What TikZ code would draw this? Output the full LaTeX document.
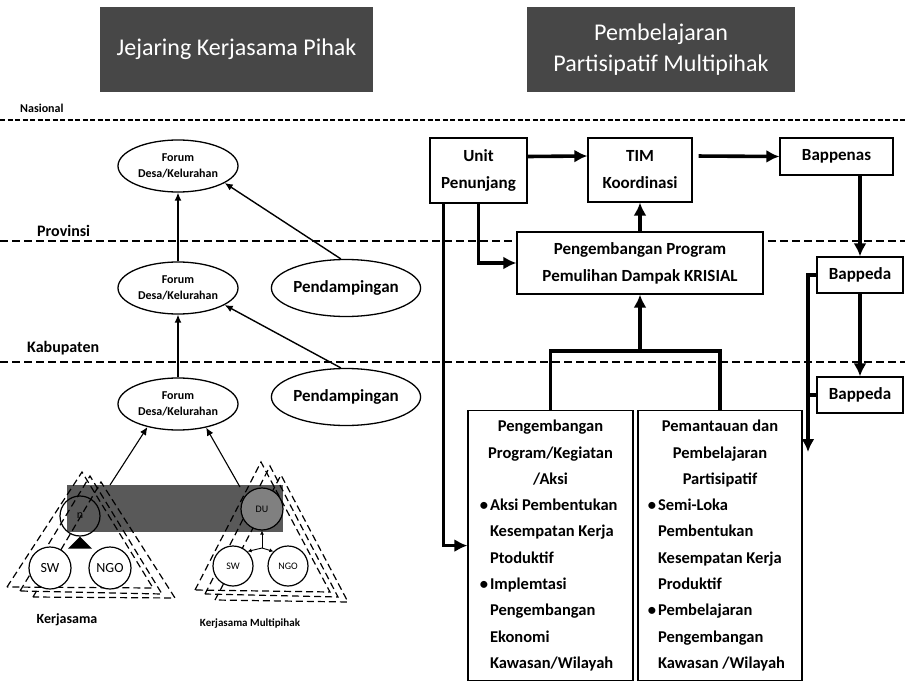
\documentclass[tikz,border=0pt]{standalone}
\usepackage{fontspec}
\setmainfont{Carlito}
\usepackage{tikz}
\usetikzlibrary{positioning,shapes,arrows.meta,calc}

\newcommand{\bulitem}{\makebox[12pt][r]{\textbullet\hspace{2pt}}}
\newcommand{\bulcont}{\hspace*{12pt}}
\newcommand{\headline}[1]{\makebox[\hsize]{#1}}

\begin{document}
\begin{tikzpicture}[
    x=1pt, y=-1pt,
    box/.style={rectangle, draw, fill=white, line width=1.2pt, inner sep=0pt, align=center, font=\bfseries\fontsize{17}{27}\selectfont},
    listbox/.style={rectangle, draw, fill=white, line width=1.2pt, anchor=north, minimum height=270pt, inner ysep=0pt, align=flush left, font=\bfseries\fontsize{16.5}{26.3}\selectfont},
    headbox/.style={rectangle, fill=black!72, text=white, inner sep=0pt, align=center, font=\fontsize{24}{31}\selectfont},
    forum/.style={ellipse, draw, fill=white, line width=1.3pt, minimum width=120pt, minimum height=52pt, inner sep=0pt, align=center, font=\bfseries\fontsize{12}{16}\selectfont},
    pend/.style={ellipse, draw, fill=white, line width=1.3pt, minimum width=122pt, minimum height=57pt, inner sep=0pt, font=\bfseries\fontsize{17}{20}\selectfont},
    tier/.style={anchor=base west, inner sep=0pt, font=\bfseries\fontsize{16}{18}\selectfont},
    tierline/.style={dash pattern=on 8pt off 4pt, line width=1.3pt},
    party/.style={circle, draw, line width=1.2pt, inner sep=0pt},
    coop/.style={dash pattern=on 7pt off 4pt, line width=1.2pt},
    thickarrow/.style={line width=3.6pt, -{Latex[length=13pt,width=13pt]}},
    thinarrow/.style={line width=1.4pt, ->},
    >={Latex[length=8pt,width=7pt]}
]
\useasboundingbox (0,0) rectangle (905,682);

% headings
\node[headbox, minimum width=273pt, minimum height=85pt] (h1) at (236.5,49.5) {Jejaring Kerjasama Pihak};
\node[headbox, minimum width=268pt, minimum height=85pt] (h2) at (661,49.5) {Pembelajaran\\Partisipatif Multipihak};

% levels
\node[tier, font=\bfseries\fontsize{12}{14}\selectfont] (lnas) at (20,113) {Nasional};
\node[tier] (lprov) at (37,236) {Provinsi};
\node[tier] (lkab) at (27,352) {Kabupaten};
\draw[tierline, dash pattern=on 5pt off 2.5pt] (0,120) -- (905,120);
\draw[tierline] (0,241) -- (905,241);
\draw[tierline] (0,362) -- (905,362);

% forum network
\node[forum] (f1) at (178,166) {Forum\\Desa/Kelurahan};
\node[forum] (f2) at (178,288) {Forum\\Desa/Kelurahan};
\node[forum] (f3) at (178,404) {Forum\\Desa/Kelurahan};
\node[pend] (p1) at (346,288) {Pendampingan};
\node[pend] (p2) at (346,397) {Pendampingan};

\draw[thinarrow] (f2) -- (f1);
\draw[thinarrow] (f3) -- (f2);
\draw[thinarrow] (p1.100) -- (f1.-20);
\draw[thinarrow] (p2.100) -- (f2.-20);

% kerjasama groups
\node[fill=black!65, minimum width=216pt, minimum height=47pt, inner sep=0pt] (band) at (175,508.5) {};
\draw[coop] (7,587) -- (82,472) -- (153,588) -- cycle;
\draw[coop] (20,591) -- (90,476) -- (162,594) -- cycle;
\draw[coop] (33,597) -- (101,482) -- (175,598) -- cycle;
\draw[coop] (195,590) -- (261,462) -- (330,592) -- cycle;
\draw[coop] (205,594) -- (270,466) -- (338,597) -- cycle;
\draw[coop] (215,600) -- (281,475) -- (348,602) -- cycle;

\node[party, minimum size=40pt, font=\fontsize{12}{12}\selectfont] (n1) at (80,516) {n};
\node[party, fill=white, minimum size=42pt, font=\fontsize{14}{14}\selectfont] (sw1) at (50,568) {SW};
\node[party, fill=white, minimum size=42pt, font=\fontsize{14}{14}\selectfont] (ngo1) at (110,568) {NGO};
\node[party, fill=black!50, minimum size=42pt, font=\fontsize{10}{10}\selectfont] (du) at (262,509) {DU};
\node[party, fill=white, minimum size=40pt, font=\fontsize{10}{10}\selectfont] (sw2) at (233,566) {SW};
\node[party, fill=white, minimum size=40pt, font=\fontsize{10}{10}\selectfont] (ngo2) at (288,566) {NGO};

\fill (n1.south) -- ++(12,12) -- ++(-24,0) -- cycle;
\coordinate (jR) at (262,548);
\draw[line width=0.9pt, -{Latex[length=4pt,width=4pt]}] (jR) -- (du.south);
\draw[line width=0.9pt, -{Latex[length=4pt,width=4pt]}] (jR) -- (sw2.45);
\draw[line width=0.9pt, -{Latex[length=4pt,width=4pt]}] (jR) -- (ngo2.135);

\coordinate (sL) at (110,485);
\coordinate (sR) at (240,487);
\draw[line width=1.1pt, ->] (sL) -- (f3.217);
\draw[line width=1.1pt, ->] (sR) -- (f3.-40);

\node[font=\bfseries\fontsize{14}{14}\selectfont] (lab1) at (67,620) {Kerjasama};
\node[font=\bfseries\fontsize{11}{11}\selectfont] (lab2) at (250,624) {Kerjasama Multipihak};

% program side
\node[box, minimum width=97pt, minimum height=65pt] (unit) at (478.5,170.5) {Unit\\Penunjang};
\node[box, minimum width=104pt, minimum height=64pt] (tim) at (640,170) {TIM\\Koordinasi};
\node[box, minimum width=113pt, minimum height=37pt] (bappenas) at (836.5,156.5) {Bappenas};
\node[box, minimum width=246pt, minimum height=62pt] (prog) at (640,263) {Pengembangan Program\\Pemulihan Dampak KRISIAL};
\node[box, minimum width=86pt, minimum height=36pt] (bp1) at (860,275) {Bappeda};
\node[box, minimum width=86pt, minimum height=36pt] (bp2) at (860,395) {Bappeda};

\node[listbox, inner xsep=10pt, text width=145pt] (aksi) at (550.5,410) {%
    \headline{Pengembangan}\\
    \headline{Program/Kegiatan}\\
    \headline{/Aksi}\\
    \bulitem Aksi Pembentukan\\
    \bulcont Kesempatan Kerja\\
    \bulcont Ptoduktif\\
    \bulitem Implemtasi\\
    \bulcont Pengembangan\\
    \bulcont Ekonomi\\
    \bulcont Kawasan/Wilayah};
\node[listbox, inner xsep=8pt, text width=148pt] (pantau) at (720,410) {%
    \headline{Pemantauan dan}\\
    \headline{Pembelajaran}\\
    \headline{Partisipatif}\\
    \bulitem Semi-Loka\\
    \bulcont Pembentukan\\
    \bulcont Kesempatan Kerja\\
    \bulcont Produktif\\
    \bulitem Pembelajaran\\
    \bulcont Pengembangan\\
    \bulcont Kawasan /Wilayah};

\draw[thickarrow] ([yshift=14pt]unit.east) -- ([yshift=14pt]tim.west);
\draw[thickarrow, shorten <=6pt] ([yshift=14pt]tim.east) -- (bappenas.west);
\draw[thickarrow] (prog.north) -- (tim.south);
\draw[thickarrow] (unit.south) |- (prog.west);
\draw[thickarrow] ([xshift=14pt]unit.south west) |- (aksi.west);
\draw[thickarrow] (bappenas.south -| bp1.north) -- (bp1.north);
\draw[thickarrow] (bp1) -- (bp2);

\coordinate (brk) at (640,351);
\draw[line width=3.6pt] (aksi.north) |- (brk) -| (pantau.north);
\draw[thickarrow] (brk) -- (prog.south);

\coordinate (bend) at (808,452);
\draw[thickarrow] (bp1.west) -| (bend);
\draw[line width=3.6pt] (bp2.west) -- (bp2.west -| bend);

\end{tikzpicture}
\end{document}
